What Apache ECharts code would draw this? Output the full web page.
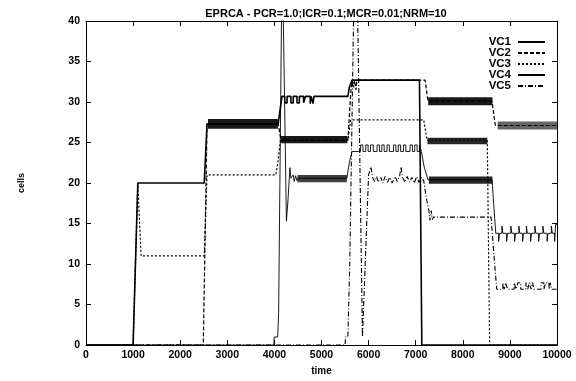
<!DOCTYPE html>
<html>
<head>
<meta charset="utf-8">
<script src="https://cdn.jsdelivr.net/npm/echarts@6/dist/echarts.min.js"></script>
<style>
html,body{margin:0;padding:0;background:#fff;}
#chart{width:576px;height:381px;}
</style>
</head>
<body>
<div id="chart"></div>
<script>
// ---- data ----
const titleText = 'EPRCA - PCR=1.0;ICR=0.1;MCR=0.01;NRM=10';
const seriesNames = ['VC1', 'VC2', 'VC3', 'VC4', 'VC5'];
const xRange = [0, 10000, 1000];
const yRange = [0, 40, 5];

const vc1 = [[0,0],[1000,0],[1100,20],[2510,20],[2570,27.3],[4080,27.3],[4120,29],[4160,30.7],
  [4220,30.7],[4220,29.9],[4270,29.9],[4270,30.7],[4350,30.7],[4350,29.9],[4400,29.9],[4400,30.7],
  [4480,30.7],[4480,29.9],[4530,29.9],[4530,30.7],[4620,30.7],[4620,29.9],[4660,29.9],[4660,30.7],
  [4760,30.7],[4760,29.8],[4780,29.8],[4780,30.7],[4820,30.7],[4820,29.8],[4840,29.8],[4840,30.7],
  [5560,30.7],[5590,31.8],[5610,31.8],[5650,32.7],[7080,32.7],[7130,0],[10000,0]];

const vc2 = [[0,0],[2490,0],[2570,27.3],[4080,27.3],[4140,25.3],[5560,25.3],[5620,31],[5650,32.7],
  [5680,32.7],[5680,31.8],[5700,31.8],[5700,32.7],[5730,32.7],[5730,31.5],[5750,31.5],[5750,32.7],
  [7200,32.7],[7260,30.1],[8620,30.1],[8690,27.1],[10000,27.1]];

const vc3 = [[0,0],[1000,0],[1100,20],[1130,20],[1170,11],[2510,11],[2570,21],[4030,21],[4060,22],
  [4130,25.3],[5560,25.3],[5620,27.8],[7170,27.8],[7240,25.3],[8520,25.3],[8570,0],[10000,0]];

const vc4 = [[0,0],[3990,0],[3995,1],[4070,1],[4090,4],[4150,40],[4170,47],[4190,40],[4255,15.3],
  [4290,18],[4330,21.9],[4350,20.6],[4380,20.4],[4400,21.0],[4420,20.2],[4450,20.9],[4480,20.3],
  [4500,20.6],[5540,20.6],[5590,22.5],[5620,23.2],[5650,23.9],
  [5830,23.9],[5830,24.7],[5880,24.7],[5880,23.9],[5940,23.9],[5940,24.7],[5990,24.7],[5990,23.9],
  [6040,23.9],[6040,24.7],[6100,24.7],[6100,23.9],[6180,23.9],[6180,24.7],[6230,24.7],[6230,23.9],
  [6280,23.9],[6280,24.7],[6330,24.7],[6330,23.9],[6390,23.9],[6390,24.7],[6440,24.7],[6440,23.9],
  [6530,23.9],[6530,24.7],[6580,24.7],[6580,23.9],[6630,23.9],[6630,24.7],[6680,24.7],[6680,23.9],
  [6740,23.9],[6740,24.7],[6790,24.7],[6790,23.9],[6880,23.9],[6880,24.7],[6930,24.7],[6930,23.9],
  [6980,23.9],[6980,24.7],[7030,24.7],[7030,23.9],[7080,23.9],[7080,24.7],[7120,24.7],[7120,23.9],
  [7150,23.9],[7180,22],[7260,20.4],[8620,20.4],[8700,13.8],
  [8760,13.8],[8760,12.8],[8780,12.8],[8780,13.8],[8830,13.8],[8830,14.7],[8850,14.7],[8850,13.8],
  [8930,13.8],[8930,12.8],[8950,12.8],[8950,13.8],[9020,13.8],[9020,14.7],[9040,14.7],[9040,13.8],
  [9100,13.8],[9100,12.8],[9120,12.8],[9120,13.8],[9190,13.8],[9190,14.7],[9210,14.7],[9210,13.8],
  [9270,13.8],[9270,12.8],[9290,12.8],[9290,13.8],[9350,13.8],[9350,14.7],[9370,14.7],[9370,13.8],
  [9440,13.8],[9440,12.8],[9460,12.8],[9460,13.8],[9530,13.8],[9530,14.7],[9550,14.7],[9550,13.8],
  [9610,13.8],[9610,12.8],[9630,12.8],[9630,13.8],[9700,13.8],[9700,14.7],[9720,14.7],[9720,13.8],
  [9790,13.8],[9790,12.8],[9810,12.8],[9810,13.8],[9880,13.8],[9880,14.7],[9900,14.7],[9900,13.8],
  [9950,13.8],[9950,12.8],[9970,12.8],[9970,14.9],[10000,14.9]];

const vc5 = [[0,0],[5500,0],[5510,1],[5560,1],[5600,10],[5680,40],[5720,46],[5770,40],[5870,1],
  [5910,1],[5960,15],[6000,21],[6050,22.0],[6090,20.6],[6130,20.2],[6170,20.8],[6210,20.1],
  [6260,20.7],[6300,20.0],[6350,20.8],[6400,20.1],[6450,20.7],[6500,20.0],[6560,20.8],[6610,20.2],
  [6660,20.9],[6690,22.0],[6720,20.7],[6770,20.1],[6820,20.8],[6870,20.1],[6920,20.7],[6970,20.0],
  [7020,20.8],[7070,20.1],[7120,20.7],[7170,20.3],[7230,18],[7280,16.6],[7300,15.4],[7330,16.6],
  [7350,15.5],[7380,15.8],[8600,15.8],[8650,12],[8720,6.9],
  [8850,6.9],[8850,7.7],[8880,7.7],[8880,6.9],[8910,6.9],[8910,7.7],[8950,7.7],[8950,6.9],
  [9090,6.9],[9090,7.7],[9130,7.7],[9130,6.9],[9170,6.9],[9170,7.7],[9230,7.7],[9230,6.9],
  [9340,6.9],[9340,7.7],[9380,7.7],[9380,6.9],[9410,6.9],[9410,7.7],[9450,7.7],[9450,6.9],
  [9480,6.9],[9480,7.7],[9510,7.7],[9510,6.9],
  [9660,6.9],[9660,7.7],[9720,7.7],[9720,6.9],[9760,6.9],[9760,7.7],[9830,7.7],[9830,6.9],
  [9860,6.9],[9860,7.7],[9880,7.7],[9880,6.9],[10000,6.9]];

// dense oscillation envelopes: [series index, tStart, tEnd, low, high, darkness]
const bands = [
  [0, 2590, 4075, 26.7, 27.9, 0.9],
  [1, 4140, 5550, 24.9, 25.8, 0.9],
  [3, 4490, 5540, 20.1, 21.0, 0.75],
  [1, 7265, 8630, 29.6, 30.6, 0.9],
  [2, 7250, 8520, 24.8, 25.6, 0.85],
  [3, 7280, 8630, 19.9, 20.8, 0.85],
  [1, 8740, 10000, 26.6, 27.6, 0.6]
];

// ---- chart ----
const allData = [vc1, vc2, vc3, vc4, vc5];
const styles = [
  {width: 1.6, type: 'solid'},
  {width: 1.2, type: [4, 2]},
  {width: 1.2, type: [2, 2]},
  {width: 0.9, type: 'solid'},
  {width: 1.1, type: [5, 2, 1, 2]}
];
const font = '"Liberation Sans", Arial, sans-serif';

const series = allData.map((d, i) => {
  const my = bands.filter(b => b[0] === i).map(b => [
    {xAxis: b[1], yAxis: b[3], itemStyle: {color: 'rgba(0,0,0,' + b[5] + ')'}},
    {xAxis: b[2], yAxis: b[4]}
  ]);
  return {
    name: seriesNames[i],
    type: 'line',
    data: d,
    symbol: 'none',
    clip: true,
    lineStyle: {color: '#000', width: styles[i].width, type: styles[i].type},
    itemStyle: {color: '#000'},
    markArea: my.length ? {silent: true, data: my} : undefined,
    z: 2 + i
  };
});

const axisCommonX = {
  type: 'value', min: xRange[0], max: xRange[1], interval: xRange[2],
  splitLine: {show: false},
  axisLine: {show: true, onZero: false, lineStyle: {color: '#000', width: 1}},
  axisTick: {show: true, inside: true, length: 5, lineStyle: {color: '#000'}}
};
const axisCommonY = {
  type: 'value', min: yRange[0], max: yRange[1], interval: yRange[2],
  splitLine: {show: false},
  axisLine: {show: true, onZero: false, lineStyle: {color: '#000', width: 1}},
  axisTick: {show: true, inside: true, length: 5, lineStyle: {color: '#000'}}
};

const chart = echarts.init(document.getElementById('chart'), null, {renderer: 'canvas'});
chart.setOption({
  animation: false,
  backgroundColor: '#fff',
  title: {
    text: titleText, left: 321, top: 3, textAlign: 'center',
    textStyle: {fontFamily: font, fontSize: 11, fontWeight: 'bold', color: '#000'}
  },
  legend: {
    orient: 'vertical', right: 25, top: 31, align: 'right',
    itemWidth: 27, itemHeight: 8, itemGap: -1,
    data: seriesNames,
    itemStyle: {opacity: 0},
    textStyle: {fontFamily: '"Liberation Sans Narrow", "Liberation Sans", Arial, sans-serif', fontSize: 11.5, fontWeight: 'bold', color: '#000', lineHeight: 10, padding: [0, 2, 0, 0]}
  },
  grid: {left: 86, right: 19, top: 21, bottom: 29, containLabel: false},
  xAxis: [
    Object.assign({}, axisCommonX, {
      position: 'bottom',
      name: 'time', nameLocation: 'middle', nameGap: 17,
      nameTextStyle: {fontFamily: font, fontSize: 10, fontWeight: 'bold', color: '#000'},
      axisLabel: {margin: 5, fontFamily: font, fontSize: 10.5, fontWeight: 'bold', color: '#000',
        formatter: v => String(v)}
    }),
    Object.assign({}, axisCommonX, {position: 'top', axisLabel: {show: false}})
  ],
  yAxis: [
    Object.assign({}, axisCommonY, {
      position: 'left',
      name: 'cells', nameLocation: 'middle', nameGap: 60, nameRotate: 90,
      nameTextStyle: {fontFamily: font, fontSize: 9, fontWeight: 'bold', color: '#000'},
      axisLabel: {margin: 6, fontFamily: font, fontSize: 10.5, fontWeight: 'bold', color: '#000',
        formatter: v => String(v)}
    }),
    Object.assign({}, axisCommonY, {position: 'right', axisLabel: {show: false}})
  ],
  series: series
});
</script>
</body>
</html>
